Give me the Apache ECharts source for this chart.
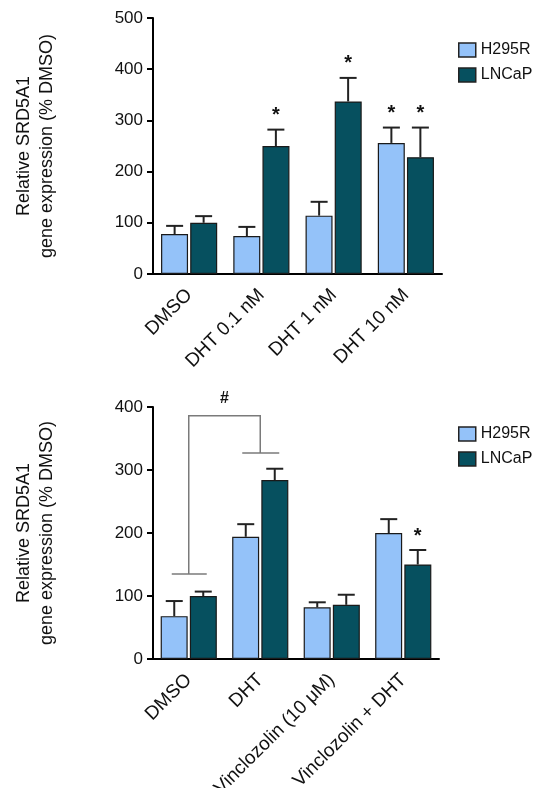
<!DOCTYPE html>
<html>
<head>
<meta charset="utf-8">
<script src="https://cdn.jsdelivr.net/npm/echarts@6/dist/echarts.min.js"></script>
<style>
  html, body { margin: 0; padding: 0; background: #fff; }
  #chart { width: 535px; height: 788px; }
</style>
</head>
<body>
<div id="chart"></div>
<script>
// top panel: DHT dose series
const topCategories = ['DMSO', 'DHT 0.1 nM', 'DHT 1 nM', 'DHT 10 nM']
const topH295R = [78, 74, 114, 256]
const topH295RErr = [94, 92, 141, 286]
const topLNCaP = [100, 250, 337, 228]
const topLNCaPErr = [113, 282, 383, 286]
const topStarsH295R = [0, 0, 0, 1]
const topStarsLNCaP = [0, 1, 1, 1]

// bottom panel: vinclozolin
const bottomCategories = ['DMSO', 'DHT', 'Vinclozolin (10 μM)', 'Vinclozolin + DHT']
const bottomH295R = [68, 194, 82, 200]
const bottomH295RErr = [92, 214, 90, 222]
const bottomLNCaP = [100, 284, 86, 150]
const bottomLNCaPErr = [107, 302, 102, 173]
const bottomStarsH295R = [0, 0, 0, 0]
const bottomStarsLNCaP = [0, 0, 0, 1]

// bracket between DMSO and DHT groups: [fromCat, toCat, leftBase, rightBase, top]
const bracket = [0, 1, 135, 327, 386]

const topTicks = [0, 100, 200, 300, 400, 500]
const bottomTicks = [0, 100, 200, 300, 400]

const seriesNames = ['H295R', 'LNCaP']
const colors = ['#94C2F9', '#06505F']
const FONT = '"Liberation Sans", Arial, sans-serif'
const BAR_W = 27
const OFFSET = 14.5

const chart = echarts.init(document.getElementById('chart'))

function errItems(means, errs, stars) {
  return means.map((m, i) => [i, m, errs[i], stars[i]])
}

function errorSeries(name, idx, means, errs, stars, shift) {
  return {
    type: 'custom',
    name: name,
    xAxisIndex: idx,
    yAxisIndex: idx,
    z: 3,
    silent: true,
    data: errItems(means, errs, stars),
    renderItem(params, api) {
      const base = api.coord([api.value(0), api.value(1)])
      const top = api.coord([api.value(0), api.value(2)])
      const x = base[0] + shift
      const children = [
        { type: 'line', shape: { x1: x, y1: base[1], x2: x, y2: top[1] }, style: { stroke: '#222', lineWidth: 2 } },
        { type: 'line', shape: { x1: x - 8.5, y1: top[1], x2: x + 8.5, y2: top[1] }, style: { stroke: '#222', lineWidth: 2 } }
      ]
      if (api.value(3)) {
        children.push({
          type: 'text',
          style: { text: '*', x: x, y: top[1] - 14, align: 'center', verticalAlign: 'middle', font: 'bold 20px ' + FONT, fill: '#111' }
        })
      }
      return { type: 'group', children }
    }
  }
}

function barSeries(name, idx, values, color) {
  return {
    type: 'bar',
    name: name,
    xAxisIndex: idx,
    yAxisIndex: idx,
    data: values,
    barWidth: BAR_W,
    barGap: '8%',
    itemStyle: { color: color, borderColor: '#1a1a1a', borderWidth: 1.2 },
    emphasis: { disabled: true }
  }
}

function xAxis(idx, cats) {
  return {
    type: 'category',
    gridIndex: idx,
    data: cats,
    axisLine: { lineStyle: { color: '#000', width: 2 } },
    axisTick: { show: false },
    axisLabel: { rotate: 45, fontSize: 19, color: '#111', fontFamily: FONT, margin: 18, interval: 0 }
  }
}

function yAxis(idx, ticks) {
  return {
    type: 'value',
    gridIndex: idx,
    min: ticks[0],
    max: ticks[ticks.length - 1],
    interval: ticks[1] - ticks[0],
    name: 'Relative SRD5A1\ngene expression (% DMSO)',
    nameLocation: 'middle',
    nameGap: 94,
    nameRotate: 90,
    nameTextStyle: { fontSize: 18, color: '#111', fontFamily: FONT, lineHeight: 23 },
    axisLine: { show: true, lineStyle: { color: '#000', width: 2 } },
    axisTick: { show: true, length: 6, lineStyle: { color: '#000', width: 2 } },
    axisLabel: { fontSize: 17, color: '#111', fontFamily: FONT, margin: 10 },
    splitLine: { show: false }
  }
}

function legend(top) {
  return {
    orient: 'vertical',
    left: 453,
    top: top,
    itemWidth: 17,
    itemHeight: 14,
    itemGap: 9,
    icon: 'rect',
    data: seriesNames,
    itemStyle: { borderColor: '#222', borderWidth: 1.5 },
    textStyle: { fontSize: 16, color: '#111', fontFamily: FONT },
    selectedMode: false
  }
}

chart.setOption({
  animation: false,
  color: colors,
  legend: [legend(37), legend(421)],
  grid: [
    { left: 153, top: 18, width: 289, height: 256, outerBoundsMode: 'none' },
    { left: 153, top: 407, width: 286, height: 252, outerBoundsMode: 'none' }
  ],
  xAxis: [xAxis(0, topCategories), xAxis(1, bottomCategories)],
  yAxis: [yAxis(0, topTicks), yAxis(1, bottomTicks)],
  series: [
    barSeries('H295R', 0, topH295R, colors[0]),
    barSeries('LNCaP', 0, topLNCaP, colors[1]),
    errorSeries('H295R', 0, topH295R, topH295RErr, topStarsH295R, -OFFSET),
    errorSeries('LNCaP', 0, topLNCaP, topLNCaPErr, topStarsLNCaP, OFFSET),
    barSeries('H295R', 1, bottomH295R, colors[0]),
    barSeries('LNCaP', 1, bottomLNCaP, colors[1]),
    errorSeries('H295R', 1, bottomH295R, bottomH295RErr, bottomStarsH295R, -OFFSET),
    errorSeries('LNCaP', 1, bottomLNCaP, bottomLNCaPErr, bottomStarsLNCaP, OFFSET),
    {
      type: 'custom',
      xAxisIndex: 1,
      yAxisIndex: 1,
      silent: true,
      data: [bracket],
      renderItem(params, api) {
        const l0 = api.coord([api.value(0), api.value(2)])
        const lt = api.coord([api.value(0), api.value(4)])
        const r0 = api.coord([api.value(1), api.value(3)])
        const rt = api.coord([api.value(1), api.value(4)])
        const st = { stroke: '#7a7a7a', lineWidth: 1.5 }
        return {
          type: 'group',
          children: [
            { type: 'polyline', shape: { points: [l0, lt, rt, r0] }, style: Object.assign({ fill: null }, st) },
            { type: 'line', shape: { x1: l0[0] - 17, y1: l0[1], x2: l0[0] + 18, y2: l0[1] }, style: st },
            { type: 'line', shape: { x1: r0[0] - 18, y1: r0[1], x2: r0[0] + 19, y2: r0[1] }, style: st },
            {
              type: 'text',
              style: { text: '#', x: (lt[0] + rt[0]) / 2, y: lt[1] - 17, align: 'center', verticalAlign: 'middle', font: 'bold 16px ' + FONT, fill: '#111' }
            }
          ]
        }
      }
    }
  ]
})
</script>
</body>
</html>
